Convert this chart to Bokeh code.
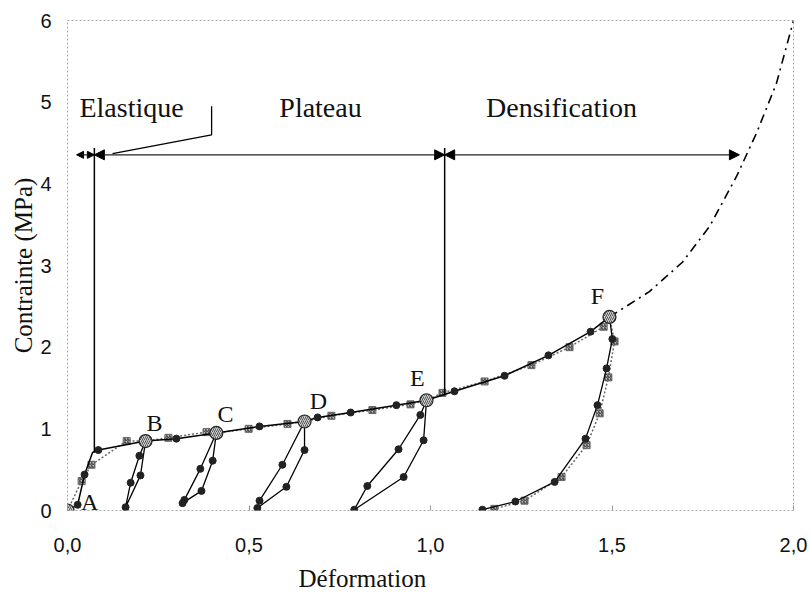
from bokeh.plotting import figure
from bokeh.models import Arrow, NormalHead, Title, FixedTicker
from bokeh.core.properties import value
from bokeh.embed import file_html
from bokeh.resources import INLINE

# ---- data (strain, stress in MPa) ----
# black series: loading envelope (solid line, black dots)
env_x = [0.0, 0.028, 0.047, 0.069, 0.085, 0.215, 0.30, 0.41, 0.529, 0.653, 0.689, 0.78, 0.906, 0.989, 1.066, 1.204, 1.325, 1.441, 1.493]
env_y = [0.0, 0.07, 0.44, 0.71, 0.74, 0.85, 0.88, 0.95, 1.03, 1.09, 1.14, 1.20, 1.29, 1.35, 1.46, 1.65, 1.90, 2.19, 2.37]
env_dot = [False, True, True, False, True, False, True, False, True, False, True, True, True, False, True, True, True, True, False]

# grey series: loading envelope (dotted line, hatched markers)
grey_x = [0.0, 0.039, 0.066, 0.163, 0.215, 0.278, 0.383, 0.41, 0.499, 0.606, 0.653, 0.727, 0.84, 0.945, 0.989, 1.033, 1.149, 1.278, 1.383, 1.477, 1.493]
grey_y = [0.0, 0.36, 0.56, 0.85, 0.85, 0.89, 0.96, 0.95, 1.00, 1.06, 1.09, 1.16, 1.23, 1.30, 1.35, 1.44, 1.58, 1.78, 2.00, 2.25, 2.37]
grey_mark = [False, True, True, True, False, True, True, False, True, True, False, True, True, True, False, True, True, True, True, True, False]

# unload / reload loops (black series)
loopB_x = [0.215, 0.198, 0.174, 0.16, 0.201, 0.215]
loopB_y = [0.85, 0.67, 0.34, 0.04, 0.43, 0.85]
loopC_x = [0.41, 0.366, 0.322, 0.317, 0.369, 0.40, 0.41]
loopC_y = [0.95, 0.51, 0.13, 0.09, 0.24, 0.61, 0.95]
loopD_x = [0.653, 0.592, 0.529, 0.523, 0.603, 0.653, 0.653]
loopD_y = [1.09, 0.56, 0.12, 0.03, 0.29, 0.74, 1.09]
loopE_x = [0.989, 0.972, 0.912, 0.826, 0.79, 0.926, 0.981, 0.989]
loopE_y = [1.35, 1.17, 0.75, 0.30, 0.01, 0.41, 0.86, 1.35]

# unloading from F
unF_x = [1.493, 1.501, 1.485, 1.46, 1.427, 1.342, 1.234, 1.143]
unF_y = [2.37, 2.10, 1.74, 1.29, 0.88, 0.35, 0.11, 0.01]
unFg_x = [1.493, 1.507, 1.49, 1.466, 1.43, 1.361, 1.259, 1.176]
unFg_y = [2.37, 2.07, 1.63, 1.19, 0.80, 0.41, 0.12, 0.02]

# extrapolated densification (dash-dot)
ext_x = [1.493, 1.603, 1.694, 1.769, 1.843, 1.898, 1.953, 2.0]
ext_y = [2.37, 2.68, 3.04, 3.48, 4.09, 4.62, 5.23, 6.0]

# labelled points
pt_names = ["B", "C", "D", "E", "F"]
pt_x = [0.215, 0.41, 0.653, 0.989, 1.493]
pt_y = [0.85, 0.95, 1.09, 1.35, 2.37]
origin_x = [0.0]
origin_y = [0.0]
lab_names = ["A", "B", "C", "D", "E", "F"]
lab_x = [0.061, 0.24, 0.435, 0.691, 0.964, 1.46]
lab_y = [0.10, 1.07, 1.18, 1.34, 1.62, 2.63]

# zones
zone_names = ["Elastique", "Plateau", "Densification"]
zone_bounds = [0.025, 0.074, 1.039, 1.851]
arrow_y = 4.355
zone_top = 4.44
zone_text_y = 4.94
zone_text_x = [0.033, 0.697, 1.361]

x_ticks = [0.0, 0.5, 1.0, 1.5, 2.0]
x_tick_labels = ["0,0", "0,5", "1,0", "1,5", "2,0"]
y_ticks = [0, 1, 2, 3, 4, 5, 6]
x_title = "Déformation"
y_title = "Contrainte (MPa)"

SERIF = "Liberation Serif"
SANS = "Liberation Sans"

p = figure(width=810, height=600, x_range=(0, 2.0), y_range=(0, 6),
           output_backend="svg", toolbar_location=None,
           min_border_left=67, min_border_right=17, min_border_top=20, min_border_bottom=87)
p.grid.visible = False
p.outline_line_color = "#aaaaaa"
p.outline_line_dash = "2 2"
p.outline_line_width = 1

p.xaxis.ticker = FixedTicker(ticks=x_ticks)
p.xaxis.major_label_overrides = {t: l for t, l in zip(x_ticks, x_tick_labels)}
p.yaxis.ticker = FixedTicker(ticks=y_ticks)
for ax in (p.xaxis[0], p.yaxis[0]):
    ax.axis_line_color = None
    ax.minor_tick_line_color = None
    ax.major_label_text_font = SANS
    ax.major_label_text_font_size = "20px"
    ax.major_label_text_color = "#111111"
p.xaxis.major_tick_line_color = "#999999"
p.xaxis.major_tick_in = 5
p.xaxis.major_tick_out = 0
p.xaxis.major_label_standoff = 27
p.yaxis.major_tick_line_color = None
p.yaxis.major_label_standoff = 10
p.yaxis.axis_label = y_title
p.yaxis.axis_label_text_font = SERIF
p.yaxis.axis_label_text_font_style = "normal"
p.yaxis.axis_label_text_font_size = "25px"
p.yaxis.axis_label_text_color = "#111111"
p.yaxis.axis_label_standoff = 0

p.add_layout(Title(text=x_title, align="left", offset=231, text_font=SERIF,
                   text_font_size="25px", text_font_style="normal", text_color="#111111",
                   standoff=17), "below")

# extrapolation
p.line(ext_x, ext_y, line_color="black", line_width=1.6, line_dash="9 5 2 5")

# grey (dotted) series
p.line(grey_x, grey_y, line_color="#666666", line_width=1.5, line_dash="2 2")
p.line(unFg_x, unFg_y, line_color="#666666", line_width=1.5, line_dash="2 2")
gx = [x for x, m in zip(grey_x, grey_mark) if m] + unFg_x[1:]
gy = [y for y, m in zip(grey_y, grey_mark) if m] + unFg_y[1:]
p.scatter(gx, gy, marker="square", size=7, fill_color="#bbbbbb", line_color="#666666",
          line_width=1, hatch_pattern="/", hatch_color="#333333", hatch_scale=3)

# black series
loops = [(loopB_x, loopB_y), (loopC_x, loopC_y), (loopD_x, loopD_y), (loopE_x, loopE_y)]
p.line(env_x, env_y, line_color="black", line_width=1.5)
for lx, ly in loops + [(unF_x, unF_y)]:
    p.line(lx, ly, line_color="black", line_width=1.3)
bx = [x for x, m in zip(env_x, env_dot) if m]
by = [y for y, m in zip(env_y, env_dot) if m]
for lx, ly in loops:
    bx += lx[1:-1]
    by += ly[1:-1]
bx += unF_x[1:]
by += unF_y[1:]
p.scatter(bx, by, marker="circle", size=7, fill_color="#222222", line_color="#222222")

# labelled points
p.scatter(pt_x + origin_x, pt_y + origin_y, marker="circle", size=13, fill_color="#d0d0d0",
          line_color="#222222", line_width=1.2, hatch_pattern="/", hatch_color="#555555", hatch_scale=4)

p.text(lab_x, lab_y, text=lab_names, text_font=value(SERIF), text_font_size="24px",
       text_align="center", text_baseline="middle", text_color="#111111")

# zone separators
p.segment(x0=[zone_bounds[1], zone_bounds[2]], y0=[env_y[3], 1.42],
          x1=[zone_bounds[1], zone_bounds[2]], y1=[zone_top, zone_top],
          line_color="black", line_width=1.5)

for i in range(3):
    hs = 7 if i == 0 else 10
    p.add_layout(Arrow(start=NormalHead(size=hs, fill_color="black", line_color="black"),
                       end=NormalHead(size=hs, fill_color="black", line_color="black"),
                       x_start=zone_bounds[i], y_start=arrow_y,
                       x_end=zone_bounds[i + 1], y_end=arrow_y,
                       line_color="#222222", line_width=1.3))

# leader line for "Elastique"
p.line([0.124, 0.397, 0.397], [4.37, 4.60, 4.95], line_color="black", line_width=1.3)

p.text(zone_text_x[:1], [zone_text_y], text=zone_names[:1], text_font=value(SERIF),
       text_font_size="28px", text_align="left", text_baseline="middle", text_color="#111111")
p.text(zone_text_x[1:], [zone_text_y] * 2, text=zone_names[1:], text_font=value(SERIF),
       text_font_size="28px", text_align="center", text_baseline="middle", text_color="#111111")

open("out.html", "w").write(file_html(p, INLINE))
